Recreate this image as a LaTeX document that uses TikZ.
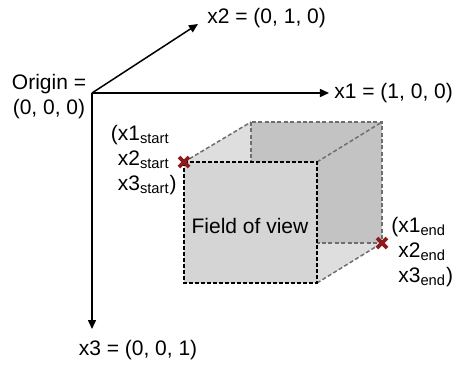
\documentclass[tikz,border=0pt]{standalone}
\usepackage{fontspec}
\setmainfont{Liberation Sans}
\usetikzlibrary{arrows.meta}
\definecolor{faceLight}{HTML}{DEDEDE}
\definecolor{faceFront}{HTML}{D5D5D5}
\definecolor{faceBack}{HTML}{C3C3C3}
\definecolor{edgeGray}{HTML}{6E6E6E}
\definecolor{markRed}{HTML}{8E1B1B}
\begin{document}
\begin{tikzpicture}[x=0.5pt, y=-0.5pt, >={Triangle[length=4.5pt,width=4pt]},
	every node/.style={font=\fontsize{10.5}{12.5}\selectfont, inner sep=0pt},
	axis/.style={->, line width=0.75pt},
	hidden/.style={draw=edgeGray, line width=0.75pt, dash pattern=on 2pt off 1.2pt},
	front/.style={fill=faceFront, draw=black, line width=0.9pt, dash pattern=on 2pt off 1pt},
	cross/.style={markRed, line width=1.9pt}]
	\useasboundingbox (0,0) rectangle (457,365);
	% Points
	\path
	(92,93) coordinate (O)
	(329,93) coordinate (X1)
	(198,24) coordinate (X2)
	(92,329) coordinate (X3)
	(184,162) coordinate (F1)
	(317,162) coordinate (F2)
	(317,283) coordinate (F3)
	(184,283) coordinate (F4)
	(251,122) coordinate (B1)
	(382,122) coordinate (B2)
	(382,243) coordinate (B3)
	;
	% Axes
	\draw[axis] (O) -- (X1);
	\draw[axis] (O) -- (X2);
	\draw[axis] (O) -- (X3);
	% Cube seen through
	\fill[faceLight] (F1) -- (B1) -- (B2) -- (B3) -- (F3) -- (F4) -- cycle;
	\fill[faceBack] (B1) rectangle (B3);
	\draw[hidden] (B1) rectangle (B3);
	\draw[hidden] (F1) -- (B1) (F2) -- (B2) (F3) -- (B3);
	% Front face
	\draw[front] (F1) rectangle (F3);
	\node (fov) at (250,226) {Field of view};
	% Corner marks
	\foreach \p in {F1, B3} {
	\draw[cross] (\p) +(-5,-5) -- +(5,5) +(-5,5) -- +(5,-5);
	}
	% Labels
	\node[align=center] (orig) at (49,97) {Origin =\\(0, 0, 0)};
	\node[anchor=west] (x1lab) at (334,93) {x1 = (1, 0, 0)};
	\node[anchor=west] (x2lab) at (207,18) {x2 = (0, 1, 0)};
	\node (x3lab) at (138,350) {x3 = (0, 0, 1)};
	\node[align=left, anchor=east] (startlab) at (177,160) {(x1\textsubscript{start}\\\phantom{(}x2\textsubscript{start}\\\phantom{(}x3\textsubscript{start})};
	\node[align=left, anchor=west] (endlab) at (391,252) {(x1\textsubscript{end}\\\phantom{(}x2\textsubscript{end}\\\phantom{(}x3\textsubscript{end})};
\end{tikzpicture}
\end{document}
